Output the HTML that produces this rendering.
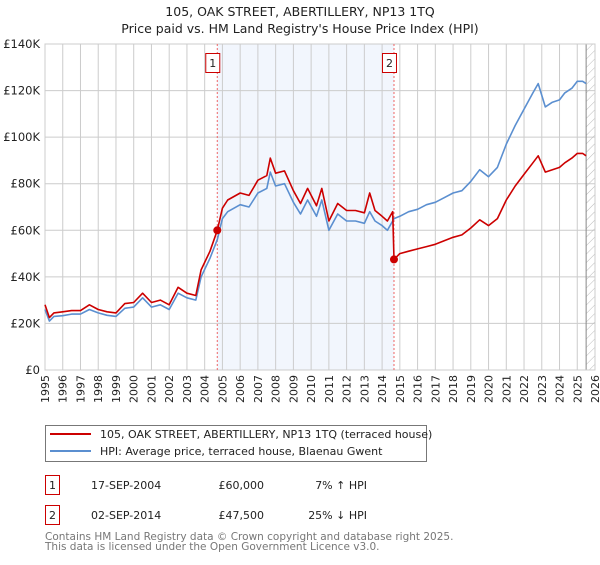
<!DOCTYPE html>
<html><head><meta charset="utf-8"><style>
body{margin:0;background:#fff;font-family:"Liberation Sans","DejaVu Sans",sans-serif;}
svg text{font-family:"DejaVu Sans","Liberation Sans",sans-serif;}
</style></head><body>
<svg id="c" width="600" height="560" xmlns="http://www.w3.org/2000/svg">
<defs><pattern id="hatch" width="6" height="6" patternUnits="userSpaceOnUse" patternTransform="rotate(45)"><line x1="0" y1="0" x2="0" y2="6" stroke="#bbb" stroke-width="1"/></pattern></defs>
<text x="300" y="16" text-anchor="middle" font-size="12.5" fill="#222">105, OAK STREET, ABERTILLERY, NP13 1TQ</text>
<text x="300" y="33" text-anchor="middle" font-size="12.5" fill="#222">Price paid vs. HM Land Registry's House Price Index (HPI)</text>
<g id="plot"></g>
<g>
<rect x="45.5" y="425.5" width="381" height="36" fill="#fff" stroke="#777"/>
<line x1="50" y1="434" x2="91" y2="434" stroke="#cc0000" stroke-width="2"/>
<text x="100" y="438" font-size="11" fill="#222">105, OAK STREET, ABERTILLERY, NP13 1TQ (terraced house)</text>
<line x1="50" y1="451" x2="91" y2="451" stroke="#5b8fd0" stroke-width="2"/>
<text x="100" y="455" font-size="11" fill="#222">HPI: Average price, terraced house, Blaenau Gwent</text>
</g>
<g font-size="11" fill="#222">
<rect x="45.5" y="475.5" width="14" height="19" fill="#fff" stroke="#c00"/><text x="52.5" y="489" text-anchor="middle">1</text>
<text x="91" y="489">17-SEP-2004</text><text x="264" y="489" text-anchor="end">£60,000</text><text x="367" y="489" text-anchor="end">7% ↑ HPI</text>
<rect x="45.5" y="505.5" width="14" height="19" fill="#fff" stroke="#c00"/><text x="52.5" y="519" text-anchor="middle">2</text>
<text x="91" y="519">02-SEP-2014</text><text x="264" y="519" text-anchor="end">£47,500</text><text x="367" y="519" text-anchor="end">25% ↓ HPI</text>
</g>
<text x="45" y="540" font-size="10.5" fill="#777">Contains HM Land Registry data © Crown copyright and database right 2025.</text>
<text x="45" y="550" font-size="10.5" fill="#777">This data is licensed under the Open Government Licence v3.0.</text>
</svg>
<script>
const yTicks=[0,20,40,60,80,100,120,140];
const yTickLabels=["£0","£20K","£40K","£60K","£80K","£100K","£120K","£140K"];
const xYears=[1995,1996,1997,1998,1999,2000,2001,2002,2003,2004,2005,2006,2007,2008,2009,2010,2011,2012,2013,2014,2015,2016,2017,2018,2019,2020,2021,2022,2023,2024,2025,2026];
const hpiT=[1995,1995.25,1995.5,1996,1996.5,1997,1997.5,1998,1998.5,1999,1999.5,2000,2000.5,2001,2001.5,2002,2002.5,2003,2003.5,2003.8,2004.3,2004.71,2005,2005.3,2006,2006.5,2007,2007.5,2007.7,2008,2008.5,2009,2009.4,2009.8,2010.3,2010.6,2011,2011.5,2012,2012.5,2013,2013.3,2013.6,2014,2014.3,2014.67,2015,2015.5,2016,2016.5,2017,2017.5,2018,2018.5,2019,2019.5,2020,2020.5,2021,2021.5,2022,2022.5,2022.8,2023.2,2023.6,2024,2024.3,2024.7,2025,2025.3,2025.5];
const hpiV=[26,21,23,23.3,24,24,26,24.5,23.5,23,26.5,27,31,27,28,26,33,31,30,40,48,56,65,68,71,70,76,78,85,79,80,72,67,73,66,73,60,67,64,64,63,68,64,62,60,65,66,68,69,71,72,74,76,77,81,86,83,87,97,105,112,119,123,113,115,116,119,121,124,124,123];
const redT=[1995,1995.25,1995.5,1996,1996.5,1997,1997.5,1998,1998.5,1999,1999.5,2000,2000.5,2001,2001.5,2002,2002.5,2003,2003.5,2003.8,2004.3,2004.71,2005,2005.3,2006,2006.5,2007,2007.5,2007.7,2008,2008.5,2009,2009.4,2009.8,2010.3,2010.6,2011,2011.5,2012,2012.5,2013,2013.3,2013.6,2014,2014.3,2014.6,2014.67,2015,2015.5,2016,2016.5,2017,2017.5,2018,2018.5,2019,2019.5,2020,2020.5,2021,2021.5,2022,2022.5,2022.8,2023.2,2023.6,2024,2024.3,2024.7,2025,2025.3,2025.5];
const redV=[28,22.5,24.5,25,25.5,25.5,28,26,25,24.5,28.5,29,33,29,30,28,35.5,33,32,43,51,60,69.5,73,76,75,81.5,83.5,91,84.5,85.5,77,71.5,78,70.5,78,64,71.5,68.5,68.5,67.5,76,68.5,66,64,68,47.5,50,51,52,53,54,55.5,57,58,61,64.5,62,65,73,79,84,89,92,85,86,87,89,91,93,93,92];
const saleT=[2004.71,2014.67];
const saleV=[60,47.5];
const saleLabels=["1","2"];

const X0=45,X1=595,Y0=370,Y1=44;
const xs=t=>X0+(t-1995)/(2026-1995)*(X1-X0);
const ys=v=>Y0-v/140*(Y0-Y1);
const NS="http://www.w3.org/2000/svg";
const g=document.getElementById('plot');
function mk(tag,attrs,parent){const e=document.createElementNS(NS,tag);for(const k in attrs)e.setAttribute(k,attrs[k]);(parent||g).appendChild(e);return e;}
// shaded band
let band=mk('rect',{x:xs(saleT[0]),y:Y1,width:xs(saleT[1])-xs(saleT[0]),height:Y0-Y1,fill:'#eef3fc',opacity:0.75});


// grid
xYears.forEach(y=>{let l=mk('line',{x1:xs(y),x2:xs(y),y1:Y1,y2:Y0,stroke:'#ccc','stroke-width':1});


let t=mk('text',{x:0,y:0,transform:`translate(${xs(y)+4},${Y0+5}) rotate(-90)`,'text-anchor':'end','font-size':11,fill:'#222'});t.textContent=y;

});
yTicks.forEach((v,i)=>{let l=mk('line',{x1:X0,x2:X1,y1:ys(v),y2:ys(v),stroke:'#ccc','stroke-width':1});


let t=mk('text',{x:40,y:ys(v)+4,'text-anchor':'end','font-size':11.5,fill:'#222'});t.textContent=yTickLabels[i];

});
// hatch future
let h=mk('rect',{x:xs(2025.5),y:Y1,width:X1-xs(2025.5),height:Y0-Y1,fill:'url(#hatch)'});


mk('line',{x1:xs(2025.5),x2:xs(2025.5),y1:Y1,y2:Y0,stroke:'#888','stroke-width':1});
mk('rect',{x:X0,y:Y1,width:X1-X0,height:Y0-Y1,fill:'none',stroke:'#ccc'});
// sale lines
saleT.forEach((t,i)=>{let l=mk('line',{x1:xs(t),x2:xs(t),y1:Y1,y2:Y0,stroke:'#e66','stroke-width':1,'stroke-dasharray':'2,2'});


let b=mk('rect',{x:xs(t)-11.5,y:53.5,width:14,height:19,fill:'#fff',stroke:'#c00'});


let tx=mk('text',{x:xs(t)-4.5,y:67,'text-anchor':'middle','font-size':11,fill:'#222'});tx.textContent=saleLabels[i];});
function path(T,V,color,name){let d=T.map((t,i)=>(i?'L':'M')+xs(t).toFixed(1)+','+ys(V[i]).toFixed(1)).join('');
let p=mk('path',{d:d,fill:'none',stroke:color,'stroke-width':1.6,'stroke-linejoin':'round'});

}
path(hpiT,hpiV,'#5b8fd0','hpi-line');
path(redT,redV,'#cc0000','price-paid-line');
saleT.forEach((t,i)=>{let c=mk('circle',{cx:xs(t),cy:ys(saleV[i]),r:4,fill:'#cc0000'});

});
</script>
</body></html>
